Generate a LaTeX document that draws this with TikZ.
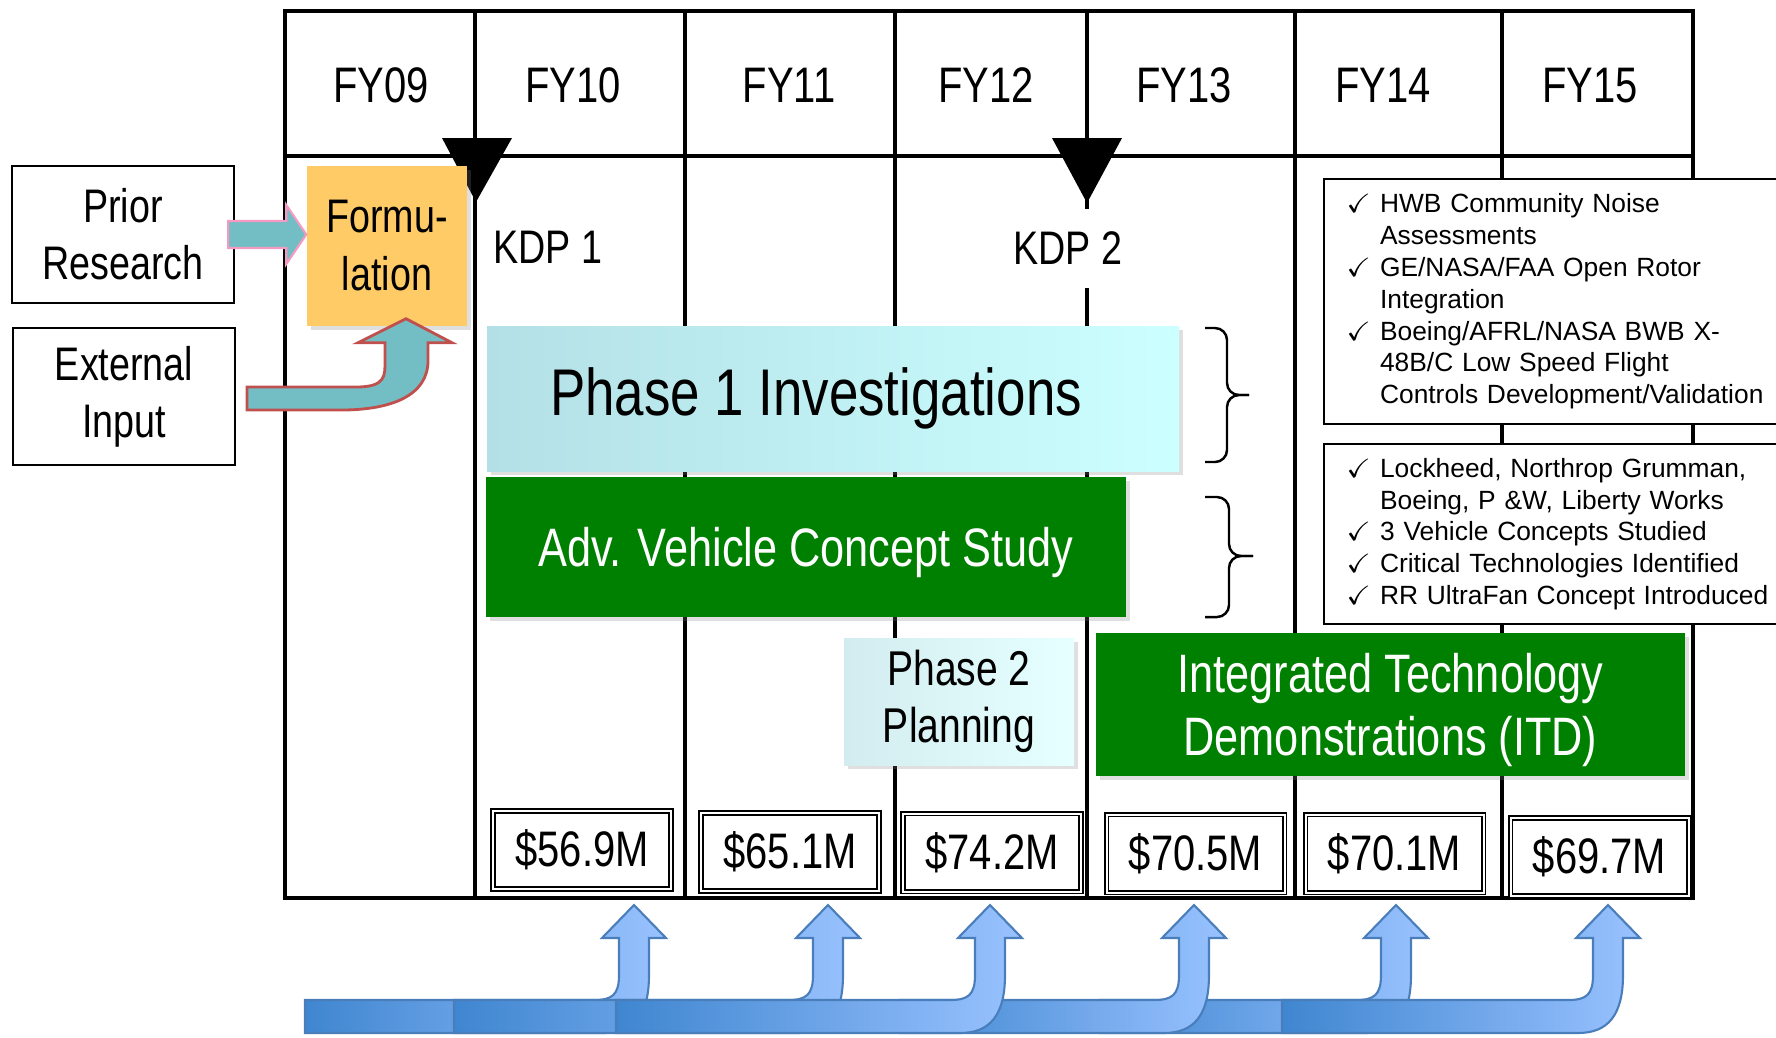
\documentclass[tikz,border=0pt]{standalone}
\usepackage{amssymb}
\usepackage{fontspec}
\setmainfont{Liberation Sans}
\newfontfamily\narrowsf[FakeStretch=0.8]{Liberation Sans}
\usetikzlibrary{calc, shadows}

\definecolor{formorange}{HTML}{FECB66}
\definecolor{tealarrow}{HTML}{72BEC4}
\definecolor{pinkline}{HTML}{F59AC2}
\definecolor{redline}{HTML}{C0504D}
\definecolor{ltdgreen}{HTML}{008000}
\definecolor{phaseone}{HTML}{B3E0E6}
\definecolor{phaseonelt}{HTML}{CCFFFF}
\definecolor{phasetwo}{HTML}{D3ECEF}
\definecolor{phasetwolt}{HTML}{E6FFFF}
\definecolor{flowdark}{HTML}{3F86D0}
\definecolor{flowlight}{HTML}{99C2FF}
\definecolor{flowline}{HTML}{4A7EBB}

\newcommand{\chk}{\makebox[3.4mm][l]{$\checkmark$}}
\newcommand{\ind}{\hspace*{3.4mm}}
% bent funding arrow: #1 start of bar, #2 x of shaft
\newcommand{\bentup}[2]{%
  \draw[flow] (#1,1000) -- ({#2-40},1000)
    .. controls ({#2-22},1000) and ({#2-15},995) .. ({#2-15},975)
    -- ({#2-15},938) -- ({#2-32},938) -- (#2,905) -- ({#2+32},938) -- ({#2+15},938) -- ({#2+15},975)
    .. controls ({#2+15},1015) and (#2,1033) .. ({#2-30},1033) -- (#1,1033) -- cycle;}

\begin{document}
\begin{tikzpicture}[x=0.1mm, y=-0.1mm,
  grid/.style={line width=1.2pt},
  fy/.style={anchor=base, font=\narrowsf\fontsize{14.2}{17}\selectfont},
  inbox/.style={draw, line width=0.6pt, minimum width=22.2mm, minimum height=13.7mm, align=center,
    font=\narrowsf\fontsize{13.4}{16.2}\selectfont},
  kdp/.style={font=\narrowsf\fontsize{13.4}{16}\selectfont},
  boxshadow/.style={drop shadow={shadow xshift=0.4mm, shadow yshift=-0.4mm, opacity=0.25}},
  greenbar/.style={boxshadow, fill=ltdgreen, text=white, align=center, text depth=0pt},
  cost/.style={draw, double, double distance=0.2mm, line width=0.16mm, minimum width=17.8mm,
    minimum height=7.8mm, font=\narrowsf\fontsize{14.2}{17}\selectfont},
  note/.style={draw, fill=white, line width=0.6pt, anchor=north west, text width=43mm, inner xsep=2.2mm,
    align=left, font=\fontsize{7.5}{9.05}\selectfont},
  brk/.style={line width=0.7pt, rounded corners=1.2mm},
  flow/.style={draw=flowline, line width=0.6pt, left color=flowdark, right color=flowlight}]

  \useasboundingbox (0,0) rectangle (1776,1037);

  % year table
  \foreach \cx in {475,685,895,1087,1295,1502}
    \draw[grid] (\cx,11) -- (\cx,898);
  \draw[grid] (285,11) rectangle (1693,898);
  \draw[grid] (285,156) -- (1693,156);
  \foreach \yr/\cx in {FY09/381, FY10/573, FY11/789, FY12/986, FY13/1184, FY14/1383, FY15/1590}
    \node[fy] (\yr) at (\cx,102) {\yr};

  % decision points
  \fill (442,138) -- (512,138) -- (476,202) -- cycle;
  \fill (1052,138) -- (1122,138) -- (1087,203) -- cycle;
  \node[kdp, anchor=base] (kdp1) at (548,263) {KDP 1};
  \node[kdp, fill=white, minimum height=7.9mm, inner xsep=1mm] (kdp2) at (1068,248) {KDP 2};

  % inputs
  \node[inbox] (prior) at (123,234.5) {Prior\\Research};
  \node[inbox] (ext) at (124,396.5) {External\\Input};
  \node[boxshadow, fill=formorange, minimum size=16mm, align=center,
    font=\narrowsf\fontsize{13.4}{16.5}\selectfont] (form) at (387,246) {Formu-\\lation};

  \coordinate (pa) at (prior.east);
  \coordinate (pt) at (form.west |- prior.east);
  \draw[draw=pinkline, fill=tealarrow, line width=0.6pt]
    ($(pa)+(-7,-13.5)$) -- ($(pt)+(-20,-13.5)$) -- ($(pt)+(-20,-29.5)$) -- (pt)
    -- ($(pt)+(-20,29.5)$) -- ($(pt)+(-20,13.5)$) -- ($(pa)+(-7,13.5)$) -- cycle;

  \coordinate (eb) at ($(ext.east)+(11,0)$);
  \coordinate (et) at ($(form.south)+(19,-8)$);
  \draw[draw=redline, fill=tealarrow, line width=0.8pt]
    ($(eb)+(0,-9.5)$) -- ($(eb)+(109,-9.5)$)
    .. controls ($(eb)+(139,-9.5)$) and ($(et)+(-21,57)$) .. ($(et)+(-21,42)$)
    -- ($(et)+(-21,24)$) -- ($(et)+(-48,24)$) -- (et) -- ($(et)+(46,24)$) -- ($(et)+(22,24)$)
    -- ($(et)+(22,42)$)
    .. controls ($(et)+(22,77)$) and ($(eb)+(144,13.5)$) .. ($(eb)+(94,13.5)$)
    -- ($(eb)+(0,13.5)$) -- cycle;

  % phases
  \node[boxshadow, left color=phaseone, right color=phaseonelt, minimum width=69.2mm, minimum height=14.5mm,
    font=\narrowsf\fontsize{18.8}{22}\selectfont] (ph1) at (833,398.5) {\hspace*{-3.4mm}Phase 1 Investigations};
  \node[greenbar, minimum width=64mm, minimum height=14mm,
    font=\narrowsf\fontsize{15.4}{18}\selectfont] (adv) at (806,547) {Adv. Vehicle Concept Study};
  \node[boxshadow, left color=phasetwo, right color=phasetwolt, minimum width=23mm, minimum height=12.7mm,
    align=center, font=\narrowsf\fontsize{13.9}{16.2}\selectfont] (ph2) at (959,701.5) {Phase 2\\Planning};
  \node[greenbar, minimum width=58.9mm, minimum height=14.3mm,
    font=\narrowsf\fontsize{15.4}{17.9}\selectfont] (itd) at (1390.5,704.5) {Integrated Technology\\Demonstrations (ITD)};

  % braces
  \draw[brk] (1205,328) -- (1227,328) -- (1227,395) -- (1249,395);
  \draw[brk] (1249,395) -- (1227,395) -- (1227,462) -- (1205,462);
  \draw[brk] (1205,497) -- (1229,497) -- (1229,556) -- (1253,556);
  \draw[brk] (1253,556) -- (1229,556) -- (1229,617) -- (1205,617);

  % results
  \node[note, minimum height=24.5mm] (hist) at (1323,178) {\chk HWB Community Noise\\
    \ind Assessments\\
    \chk GE/NASA/FAA Open Rotor\\
    \ind Integration\\
    \chk Boeing/AFRL/NASA BWB X-\\
    \ind 48B/C Low Speed Flight\\
    \ind Controls Development/Validation};
  \node[note, minimum height=18mm] (avcs) at (1323,443) {\chk Lockheed, Northrop Grumman,\\
    \ind Boeing, P \&W, Liberty Works\\
    \chk 3 Vehicle Concepts Studied\\
    \chk Critical Technologies Identified\\
    \chk RR UltraFan Concept Introduced};

  % budget per year
  \foreach \nm/\cx/\cy/\amt in {c10/582/850/56.9, c11/790/852/65.1, c12/992/852.5/74.2,
      c13/1195.5/853.5/70.5, c14/1394.5/853.5/70.1, c15/1599.5/857/69.7}
    \node[cost] (\nm) at (\cx,\cy) {\$\amt M};

  % funding arrows
  \bentup{305}{634}
  \bentup{454}{828}
  \bentup{1100}{1396}
  \bentup{900}{1194}
  \bentup{616}{990}
  \bentup{1282}{1608}
\end{tikzpicture}
\end{document}
